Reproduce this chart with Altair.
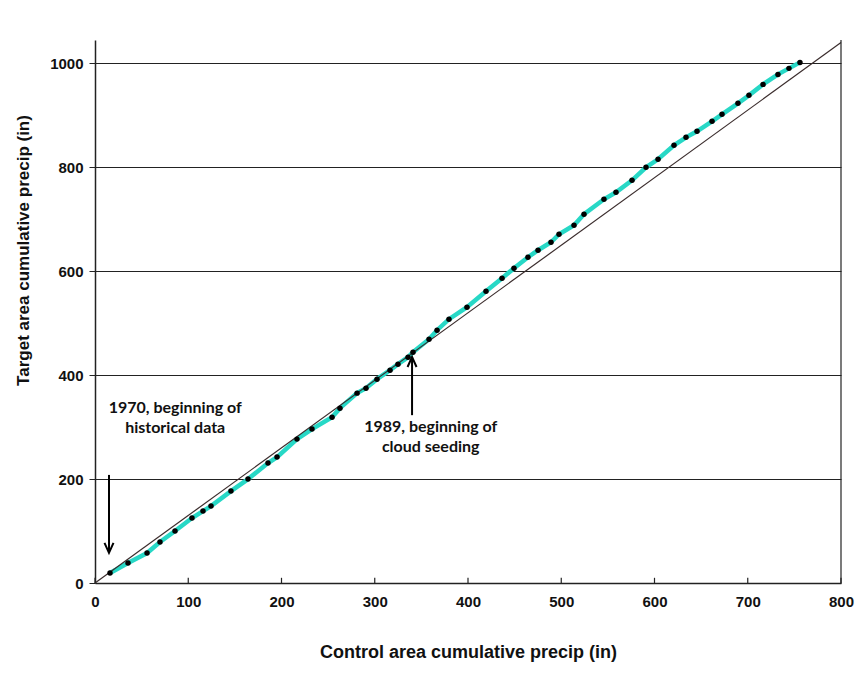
import altair as alt
import pandas as pd

# --- data ---
control = [16.1, 35.4, 55.8, 69.7, 85.8, 104.0, 115.8, 124.4, 145.8, 164.1,
           185.5, 195.2, 216.6, 232.7, 254.2, 262.7, 281.0, 290.6, 302.4, 316.4,
           324.9, 335.7, 341.0, 358.2, 366.8, 379.6, 398.9, 419.3, 436.5, 449.3,
           464.3, 475.1, 489.0, 497.6, 513.7, 524.4, 545.8, 558.7, 575.9, 590.9,
           603.8, 620.9, 633.8, 645.6, 661.7, 672.4, 689.5, 701.3, 716.4, 732.4,
           744.2, 756.0]
target = [19.2, 38.5, 57.7, 78.8, 100.0, 125.0, 138.5, 148.1, 176.9, 200.0,
          230.8, 242.3, 276.9, 296.2, 319.2, 336.5, 365.4, 375.0, 392.3, 409.6,
          421.2, 434.6, 444.2, 469.2, 486.5, 507.7, 530.8, 561.5, 586.5, 605.8,
          626.9, 640.4, 655.8, 671.2, 688.5, 709.6, 738.5, 751.9, 775.0, 800.0,
          815.4, 842.3, 857.7, 869.2, 888.5, 901.9, 923.1, 938.5, 959.6, 978.8,
          990.4, 1001.9]

ref_x = [0, 800]
ref_y = [0, 1040]

x_ticks = [0, 100, 200, 300, 400, 500, 600, 700, 800]
y_ticks = [0, 200, 400, 600, 800, 1000]

# annotation lines (one row per line of text)
ann_text = ["1970, beginning of", "historical data", "1989, beginning of", "cloud seeding"]
ann_x = [86, 86, 360, 360]
ann_y = [337, 298, 300, 261]

arrow_x = [15, 340]
arrow_start = [208, 323]
arrow_tip = [58, 435]
arrow_dir = ["down", "up"]

X_MAX = 800
Y_MAX = 1045

# --- tables (all layers share the field names "control" / "target") ---
pts = pd.DataFrame({"control": control, "target": target, "order": range(len(control))})
ref = pd.DataFrame({"control": ref_x, "target": ref_y})
ann = pd.DataFrame({"control": ann_x, "target": ann_y, "label": ann_text})
arr = pd.DataFrame({"control": arrow_x, "target": arrow_start, "target2": arrow_tip,
                    "tip": arrow_tip, "dir": arrow_dir})
xt = pd.DataFrame({"control": x_ticks, "target": [0] * len(x_ticks), "target2": [10] * len(x_ticks)})
border = pd.DataFrame({"control": [X_MAX], "target": [0], "target2": [Y_MAX]})

xs = alt.Scale(domain=[0, X_MAX], nice=False, zero=True)
ys = alt.Scale(domain=[0, Y_MAX], nice=False, zero=True)

FONT = "Liberation Sans"

x_axis = alt.Axis(values=x_ticks, title="Control area cumulative precip (in)", format="d",
                  labelFont=FONT, labelFontWeight="bold", labelFontSize=15, labelColor="#111",
                  labelFlush=False,
                  titleFont=FONT, titleFontWeight="bold", titleFontSize=18, titleColor="#111",
                  titlePadding=34, labelPadding=11, ticks=False, grid=False,
                  domainColor="#222", domainWidth=1.5)
y_axis = alt.Axis(values=y_ticks, title="Target area cumulative precip (in)", format="d",
                  labelFont=FONT, labelFontWeight="bold", labelFontSize=15, labelColor="#111",
                  labelFlush=False,
                  titleFont=FONT, titleFontWeight="bold", titleFontSize=17, titleColor="#111",
                  titlePadding=17, titleY=210, labelPadding=6, tickSize=6, tickColor="#222",
                  grid=True, gridColor="#222", gridWidth=1.2,
                  domainColor="#222", domainWidth=1.5)

X = alt.X("control:Q", scale=xs, axis=x_axis)
Y = alt.Y("target:Q", scale=ys, axis=y_axis)

base_line = alt.Chart(pts).mark_line(color="#27D8C6", strokeWidth=4.5).encode(
    x=X, y=Y, order="order:Q",
)

ref_line = alt.Chart(ref).mark_line(color="#3a2c2c", strokeWidth=1.2).encode(x=X, y=Y)

dots = alt.Chart(pts).mark_circle(color="#000", size=30, opacity=1).encode(x=X, y=Y)

shafts = alt.Chart(arr).mark_rule(color="#000", strokeWidth=2).encode(
    x=X, y=Y, y2="target2:Q",
)

heads = alt.Chart(arr).mark_point(filled=False, color="#000", strokeWidth=2, size=400, opacity=1).encode(
    x=X,
    y=alt.Y("tip:Q", scale=ys, axis=y_axis),
    shape=alt.Shape("dir:N", legend=None,
                    scale=alt.Scale(domain=["down", "up"],
                                    range=["M-0.45,-1L0,0L0.45,-1", "M-0.45,1L0,0L0.45,1"])),
)

texts = alt.Chart(ann).mark_text(font="Lato", fontWeight="bold", fontSize=16, color="#111",
                                 align="center", baseline="middle").encode(
    x=X, y=Y, text="label:N",
)

xticks = alt.Chart(xt).mark_rule(color="#222", strokeWidth=1.2).encode(
    x=X, y=Y, y2="target2:Q",
)

right_border = alt.Chart(border).mark_rule(color="#222", strokeWidth=1.2).encode(
    x=X, y=Y, y2="target2:Q",
)

chart = alt.layer(base_line, ref_line, dots, shafts, heads, texts, xticks, right_border).properties(
    width=746, height=543,
    autosize=alt.AutoSizeParams(type="none"),
    padding={"left": 95, "top": 40, "right": 18, "bottom": 90},
    background="white",
).configure_view(stroke=None)

chart.save("out.html", embed_options={"renderer": "svg", "actions": False})
